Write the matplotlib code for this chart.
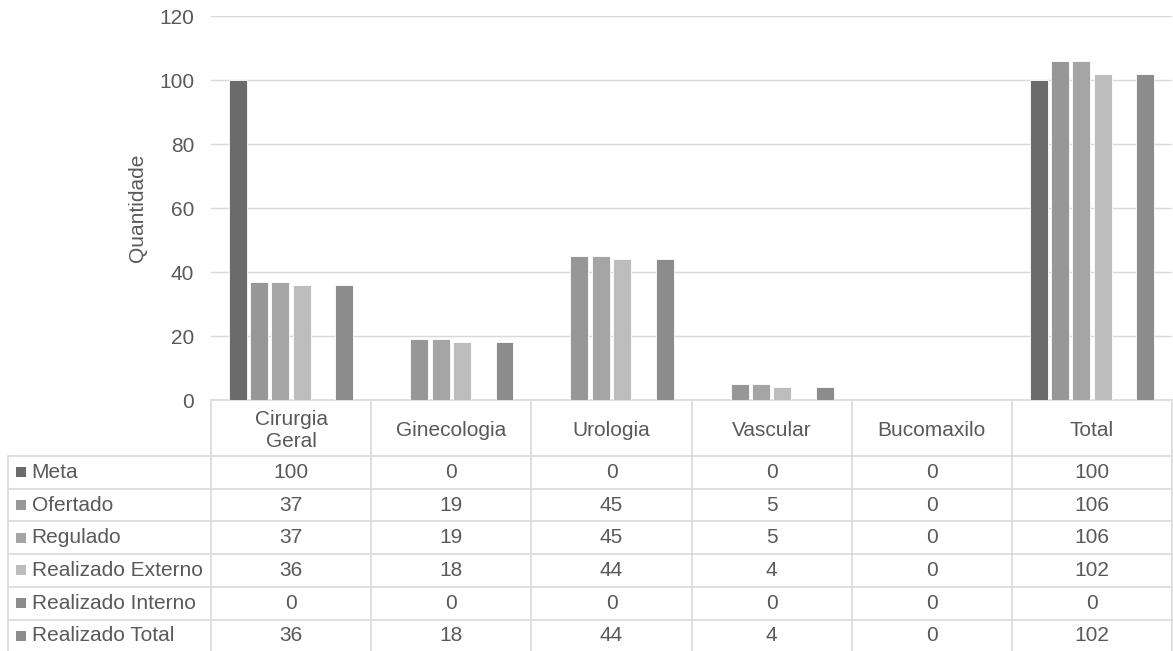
import matplotlib.pyplot as plt
import numpy as np

plt.rcParams['font.family'] = ['Liberation Sans', 'DejaVu Sans']

categories = ["Cirurgia\nGeral", "Ginecologia", "Urologia", "Vascular", "Bucomaxilo", "Total"]
series = ["Meta", "Ofertado", "Regulado", "Realizado Externo", "Realizado Interno", "Realizado Total"]
meta = [100, 0, 0, 0, 0, 100]
ofertado = [37, 19, 45, 5, 0, 106]
regulado = [37, 19, 45, 5, 0, 106]
real_externo = [36, 18, 44, 4, 0, 102]
real_interno = [0, 0, 0, 0, 0, 0]
real_total = [36, 18, 44, 4, 0, 102]
values = [meta, ofertado, regulado, real_externo, real_interno, real_total]
colors = ["#6b6b6b", "#979797", "#a5a5a5", "#bdbdbd", "#8c8c8c", "#8c8c8c"]

txt = "#595959"
grid = "#d9d9d9"
fs = 15
W, H = 1173, 651

fig = plt.figure(figsize=(W / 100, H / 100), dpi=100)
ax = fig.add_axes([211 / W, (H - 400) / H, (1172 - 211) / W, 384 / H])

x = np.arange(len(categories))
slot = 0.133
for i, (name, vals, c) in enumerate(zip(series, values, colors)):
    ax.bar(x + (i - 2.5) * slot, vals, width=0.112, color=c,
           edgecolor="white", linewidth=0.6, zorder=3)

ax.set_xlim(-0.5, len(categories) - 0.5)
ax.set_ylim(0, 120)
ax.set_yticks(range(0, 121, 20))
ax.yaxis.grid(True, color=grid, linewidth=1, zorder=0)
ax.set_xticks([])
for s in ["top", "right", "left"]:
    ax.spines[s].set_visible(False)
ax.spines["bottom"].set_color(grid)
ax.spines["bottom"].set_linewidth(1.2)
ax.tick_params(axis="y", length=0, labelsize=fs, labelcolor=txt, pad=12)
ax.set_ylabel("Quantidade", fontsize=fs, color=txt, labelpad=9)

# data table under the chart
label_w = 203 / 160
tab = fig.add_axes([8 / W, 0, (1172 - 8) / W, (H - 402) / H])
tab.set_xlim(-0.5 - label_w, len(categories) - 0.5)
tab.set_ylim(H - 402, 0)
tab.axis("off")

head_h = 54
row_h = 32.7
lw = 1.2
# vertical lines
for b in np.arange(-0.5, len(categories) + 0.5, 1.0):
    tab.plot([b, b], [0, H - 402], color=grid, lw=lw, clip_on=False)
tab.plot([-0.5 - label_w] * 2, [head_h, H - 402], color=grid, lw=lw, clip_on=False)
# horizontal lines
for r in range(len(series)):
    yy = head_h + r * row_h
    tab.plot([-0.5 - label_w, len(categories) - 0.5], [yy, yy], color=grid, lw=lw)

for j, cat in enumerate(categories):
    tab.text(j, head_h / 2 + 1.5, cat, ha="center", va="center", fontsize=fs,
             color=txt, linespacing=1.2)

sq_x = -0.5 - label_w + 8 / 160
for r, (name, vals, c) in enumerate(zip(series, values, colors)):
    yc = head_h + (r + 0.5) * row_h
    tab.scatter([sq_x + 5 / 160], [yc], marker="s", s=60, color=c, linewidths=0)
    tab.text(sq_x + 15.5 / 160, yc, name, ha="left", va="center", fontsize=fs, color=txt)
    for j, v in enumerate(vals):
        tab.text(j, yc, str(v), ha="center", va="center", fontsize=fs, color=txt)

fig.savefig("out.png", dpi=100)
